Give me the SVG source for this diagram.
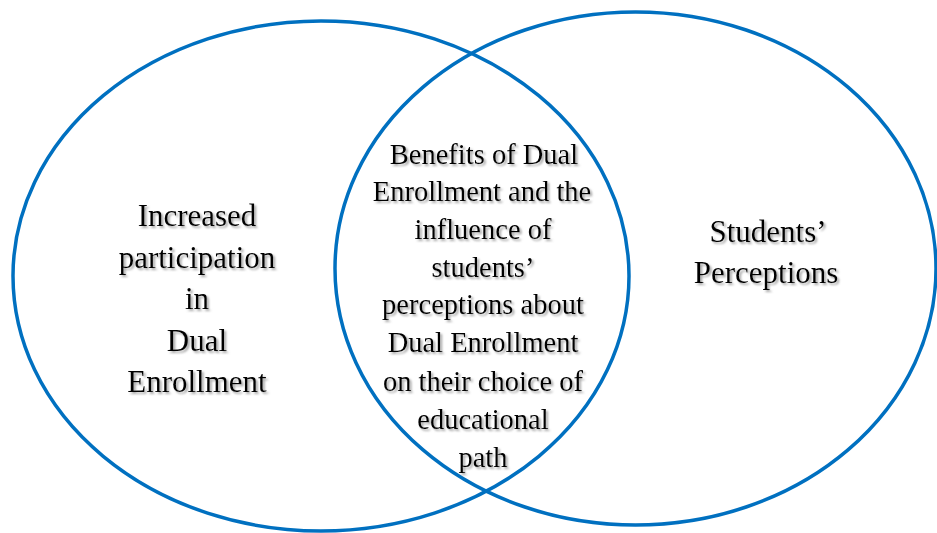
<svg xmlns="http://www.w3.org/2000/svg" width="937" height="533" viewBox="0 0 937 533">
<defs>
<filter id="sh" x="-10%" y="-30%" width="120%" height="160%">
<feDropShadow dx="2" dy="2" stdDeviation="1.2" flood-color="#808080" flood-opacity="0.7"/>
</filter>
</defs>
<style>
.ring{fill:none;stroke:#0070C0;stroke-width:3.5}
.t{font-family:"Liberation Serif","Times New Roman",serif;fill:#000;text-anchor:middle;filter:url(#sh)}
.big{font-size:31px}
.mid{font-size:28.5px}
</style>
<rect width="937" height="533" fill="#fff"/>
<g id="left-set">
<ellipse class="ring" cx="321" cy="276" rx="308" ry="255"/>
<text class="t big" x="197"><tspan x="197" y="226">Increased</tspan><tspan x="197" y="267.5">participation</tspan><tspan x="197" y="309">in</tspan><tspan x="197" y="350.5">Dual</tspan><tspan x="197" y="392">Enrollment</tspan></text>
</g>
<g id="right-set">
<ellipse class="ring" cx="635.5" cy="268.5" rx="300.5" ry="256.5"/>
<text class="t big" x="767"><tspan x="768" y="242">Students’</tspan><tspan x="766" y="283">Perceptions</tspan></text>
</g>
<g id="overlap">
<text class="t mid" x="483"><tspan x="484" y="163.5">Benefits of Dual</tspan><tspan x="482" y="201">Enrollment and the</tspan><tspan x="483" y="238.5">influence of</tspan><tspan x="483" y="276.5">students’</tspan><tspan x="483" y="314">perceptions about</tspan><tspan x="483" y="352">Dual Enrollment</tspan><tspan x="483" y="390.5">on their choice of</tspan><tspan x="483" y="428.5">educational</tspan><tspan x="483" y="466.5">path</tspan></text>
</g>
<g id="connectors"></g>
</svg>
